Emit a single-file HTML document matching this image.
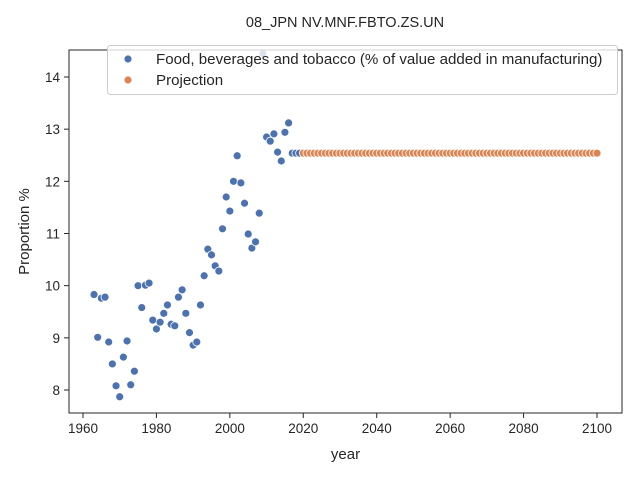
<!DOCTYPE html>
<html><head><meta charset="utf-8"><style>
body{margin:0;background:#fff;}
text{font-family:"Liberation Sans","DejaVu Sans",sans-serif;fill:#262626;}
</style></head><body>
<svg id="chart" width="640" height="480" xmlns="http://www.w3.org/2000/svg">
<text x="345" y="27" text-anchor="middle" font-size="14.5">08_JPN NV.MNF.FBTO.ZS.UN</text>
<g id="plot"></g>
</svg>
<script>
const years=[1963,1964,1965,1966,1967,1968,1969,1970,1971,1972,1973,1974,1975,1976,1977,1978,1979,1980,1981,1982,1983,1984,1985,1986,1987,1988,1989,1990,1991,1992,1993,1994,1995,1996,1997,1998,1999,2000,2001,2002,2003,2004,2005,2006,2007,2008,2009,2010,2011,2012,2013,2014,2015,2016,2017,2018,2019];
const values=[9.83,9.01,9.76,9.78,8.92,8.5,8.08,7.87,8.63,8.94,8.10,8.36,10.0,9.58,10.01,10.05,9.34,9.17,9.30,9.47,9.63,9.26,9.23,9.78,9.92,9.47,9.1,8.86,8.92,9.63,10.19,10.7,10.59,10.38,10.28,11.09,11.7,11.43,12.0,12.49,11.97,11.58,10.99,10.72,10.84,11.39,14.45,12.85,12.77,12.91,12.56,12.39,12.94,13.12,12.54,12.54,12.54];
const projYears=[];for(let y=2020;y<=2100;y++)projYears.push(y);
const projValue=12.54;
const xTicks=[1960,1980,2000,2020,2040,2060,2080,2100];
const yTicks=[8,9,10,11,12,13,14];
const NS="http://www.w3.org/2000/svg";
const L=69,R=622,T=50,B=413;
const xs=v=>83+(v-1960)*(514/140);
const ys=v=>390-(v-8)*(313/6);
const g=document.getElementById('plot');
function el(t,a,p){const e=document.createElementNS(NS,t);for(const k in a)e.setAttribute(k,a[k]);(p||g).appendChild(e);return e;}
xTicks.forEach(t=>{
 const l=el('line',{x1:xs(t),x2:xs(t),y1:B,y2:B+5,stroke:'#262626','stroke-width':1});
 
 
 const tx=el('text',{x:xs(t),y:B+20,'text-anchor':'middle','font-size':13.5});tx.textContent=t;
 
 
});
yTicks.forEach(t=>{
 const l=el('line',{x1:L-5,x2:L,y1:ys(t),y2:ys(t),stroke:'#262626','stroke-width':1});
 
 
 const tx=el('text',{x:L-9,y:ys(t)+5,'text-anchor':'end','font-size':13.5});tx.textContent=t;
 
 
});
years.forEach((y,i)=>{
 const c=el('circle',{cx:xs(y),cy:ys(values[i]),r:4,fill:'#4c72b0',stroke:'#fff','stroke-width':0.8});
 
 
});
projYears.forEach(y=>{
 const c=el('circle',{cx:xs(y),cy:ys(projValue),r:4,fill:'#dd8452',stroke:'#fff','stroke-width':0.8});
 
 
});
const frame=el('rect',{x:L,y:T,width:R-L,height:B-T,fill:'none',stroke:'#262626','stroke-width':1});


const xl=el('text',{x:(L+R)/2,y:459,'text-anchor':'middle','font-size':15});xl.textContent='year';


const yl=el('text',{x:29,y:(T+B)/2,'text-anchor':'middle','font-size':15,transform:`rotate(-90 29 ${(T+B)/2})`});yl.textContent='Proportion %';


const lg=el('g',{});


el('rect',{x:107.5,y:45.5,width:510,height:49,rx:3,fill:'#fff','fill-opacity':0.8,stroke:'#ccc'},lg);
const items=[['Food, beverages and tobacco (% of value added in manufacturing)','#4c72b0',60],['Projection','#dd8452',81]];
items.forEach(it=>{
 const e=el('g',{},lg);
 
 
 el('circle',{cx:128,cy:it[2]-1,r:4,fill:it[1],stroke:'#fff','stroke-width':0.8},e);
 const t=el('text',{x:156,y:it[2]+4,'font-size':15.1},e);t.textContent=it[0];
});
</script>
</body></html>
